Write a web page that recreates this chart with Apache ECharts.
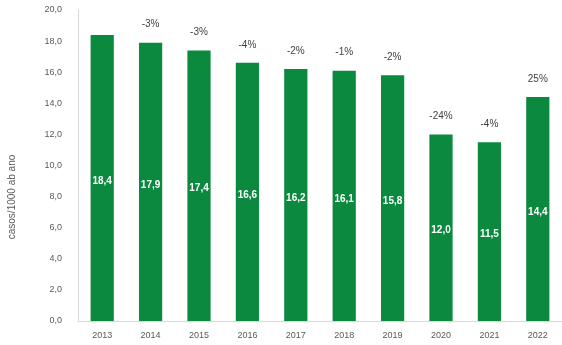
<!DOCTYPE html>
<html><head><meta charset="utf-8">
<script src="https://cdn.jsdelivr.net/npm/echarts@6/dist/echarts.min.js"></script>
<style>html,body{margin:0;padding:0;background:#fff}#c{width:562px;height:345px}</style>
</head><body><div id="c"></div>
<script>
const categories = ['2013','2014','2015','2016','2017','2018','2019','2020','2021','2022'];
const values = [18.4, 17.9, 17.4, 16.6, 16.2, 16.1, 15.8, 12.0, 11.5, 14.4];
const changeLabels = ['', '-3%', '-3%', '-4%', '-2%', '-1%', '-2%', '-24%', '-4%', '25%'];
const yAxisName = 'casos/1000 ab ano';

const fmt = v => v.toFixed(1).replace('.', ',');
const chart = echarts.init(document.getElementById('c'));
chart.setOption({
  animation: false,
  grid: {left: 78, right: 0, top: 10, bottom: 24},
  graphic: [{
    type: 'text', x: 12, y: 197, rotation: Math.PI / 2,
    style: {text: yAxisName, fill: '#595959', fontSize: 10, fontFamily: 'Liberation Sans',
      align: 'center', verticalAlign: 'middle'}
  }],
  xAxis: {
    type: 'category', data: categories,
    axisLine: {lineStyle: {color: '#d9d9d9'}},
    axisTick: {show: false},
    axisLabel: {color: '#595959', fontSize: 9, fontFamily: 'Liberation Sans', margin: 10}
  },
  yAxis: {
    type: 'value', min: 0, max: 20, interval: 2,
    axisLine: {show: true, lineStyle: {color: '#d9d9d9'}},
    axisTick: {show: false},
    splitLine: {show: false},
    axisLabel: {color: '#595959', fontSize: 9, fontFamily: 'Liberation Sans', margin: 16, formatter: v => fmt(v)}
  },
  series: [
    {
      type: 'bar', data: values, barWidth: '48%',
      itemStyle: {color: '#0B8A3F'},
      label: {show: true, position: 'inside', offset: [0, 3], color: '#fff', fontSize: 10, fontWeight: 'bold',
        fontFamily: 'Liberation Sans', formatter: p => fmt(p.value)}
    },
    {
      type: 'bar', data: values, barWidth: '48%', barGap: '-100%',
      itemStyle: {color: 'rgba(0,0,0,0)'},
      label: {show: true, position: 'top', distance: 13, color: '#404040', fontSize: 10,
        fontFamily: 'Liberation Sans', formatter: p => changeLabels[p.dataIndex]},
      silent: true
    }
  ]
});
</script></body></html>
